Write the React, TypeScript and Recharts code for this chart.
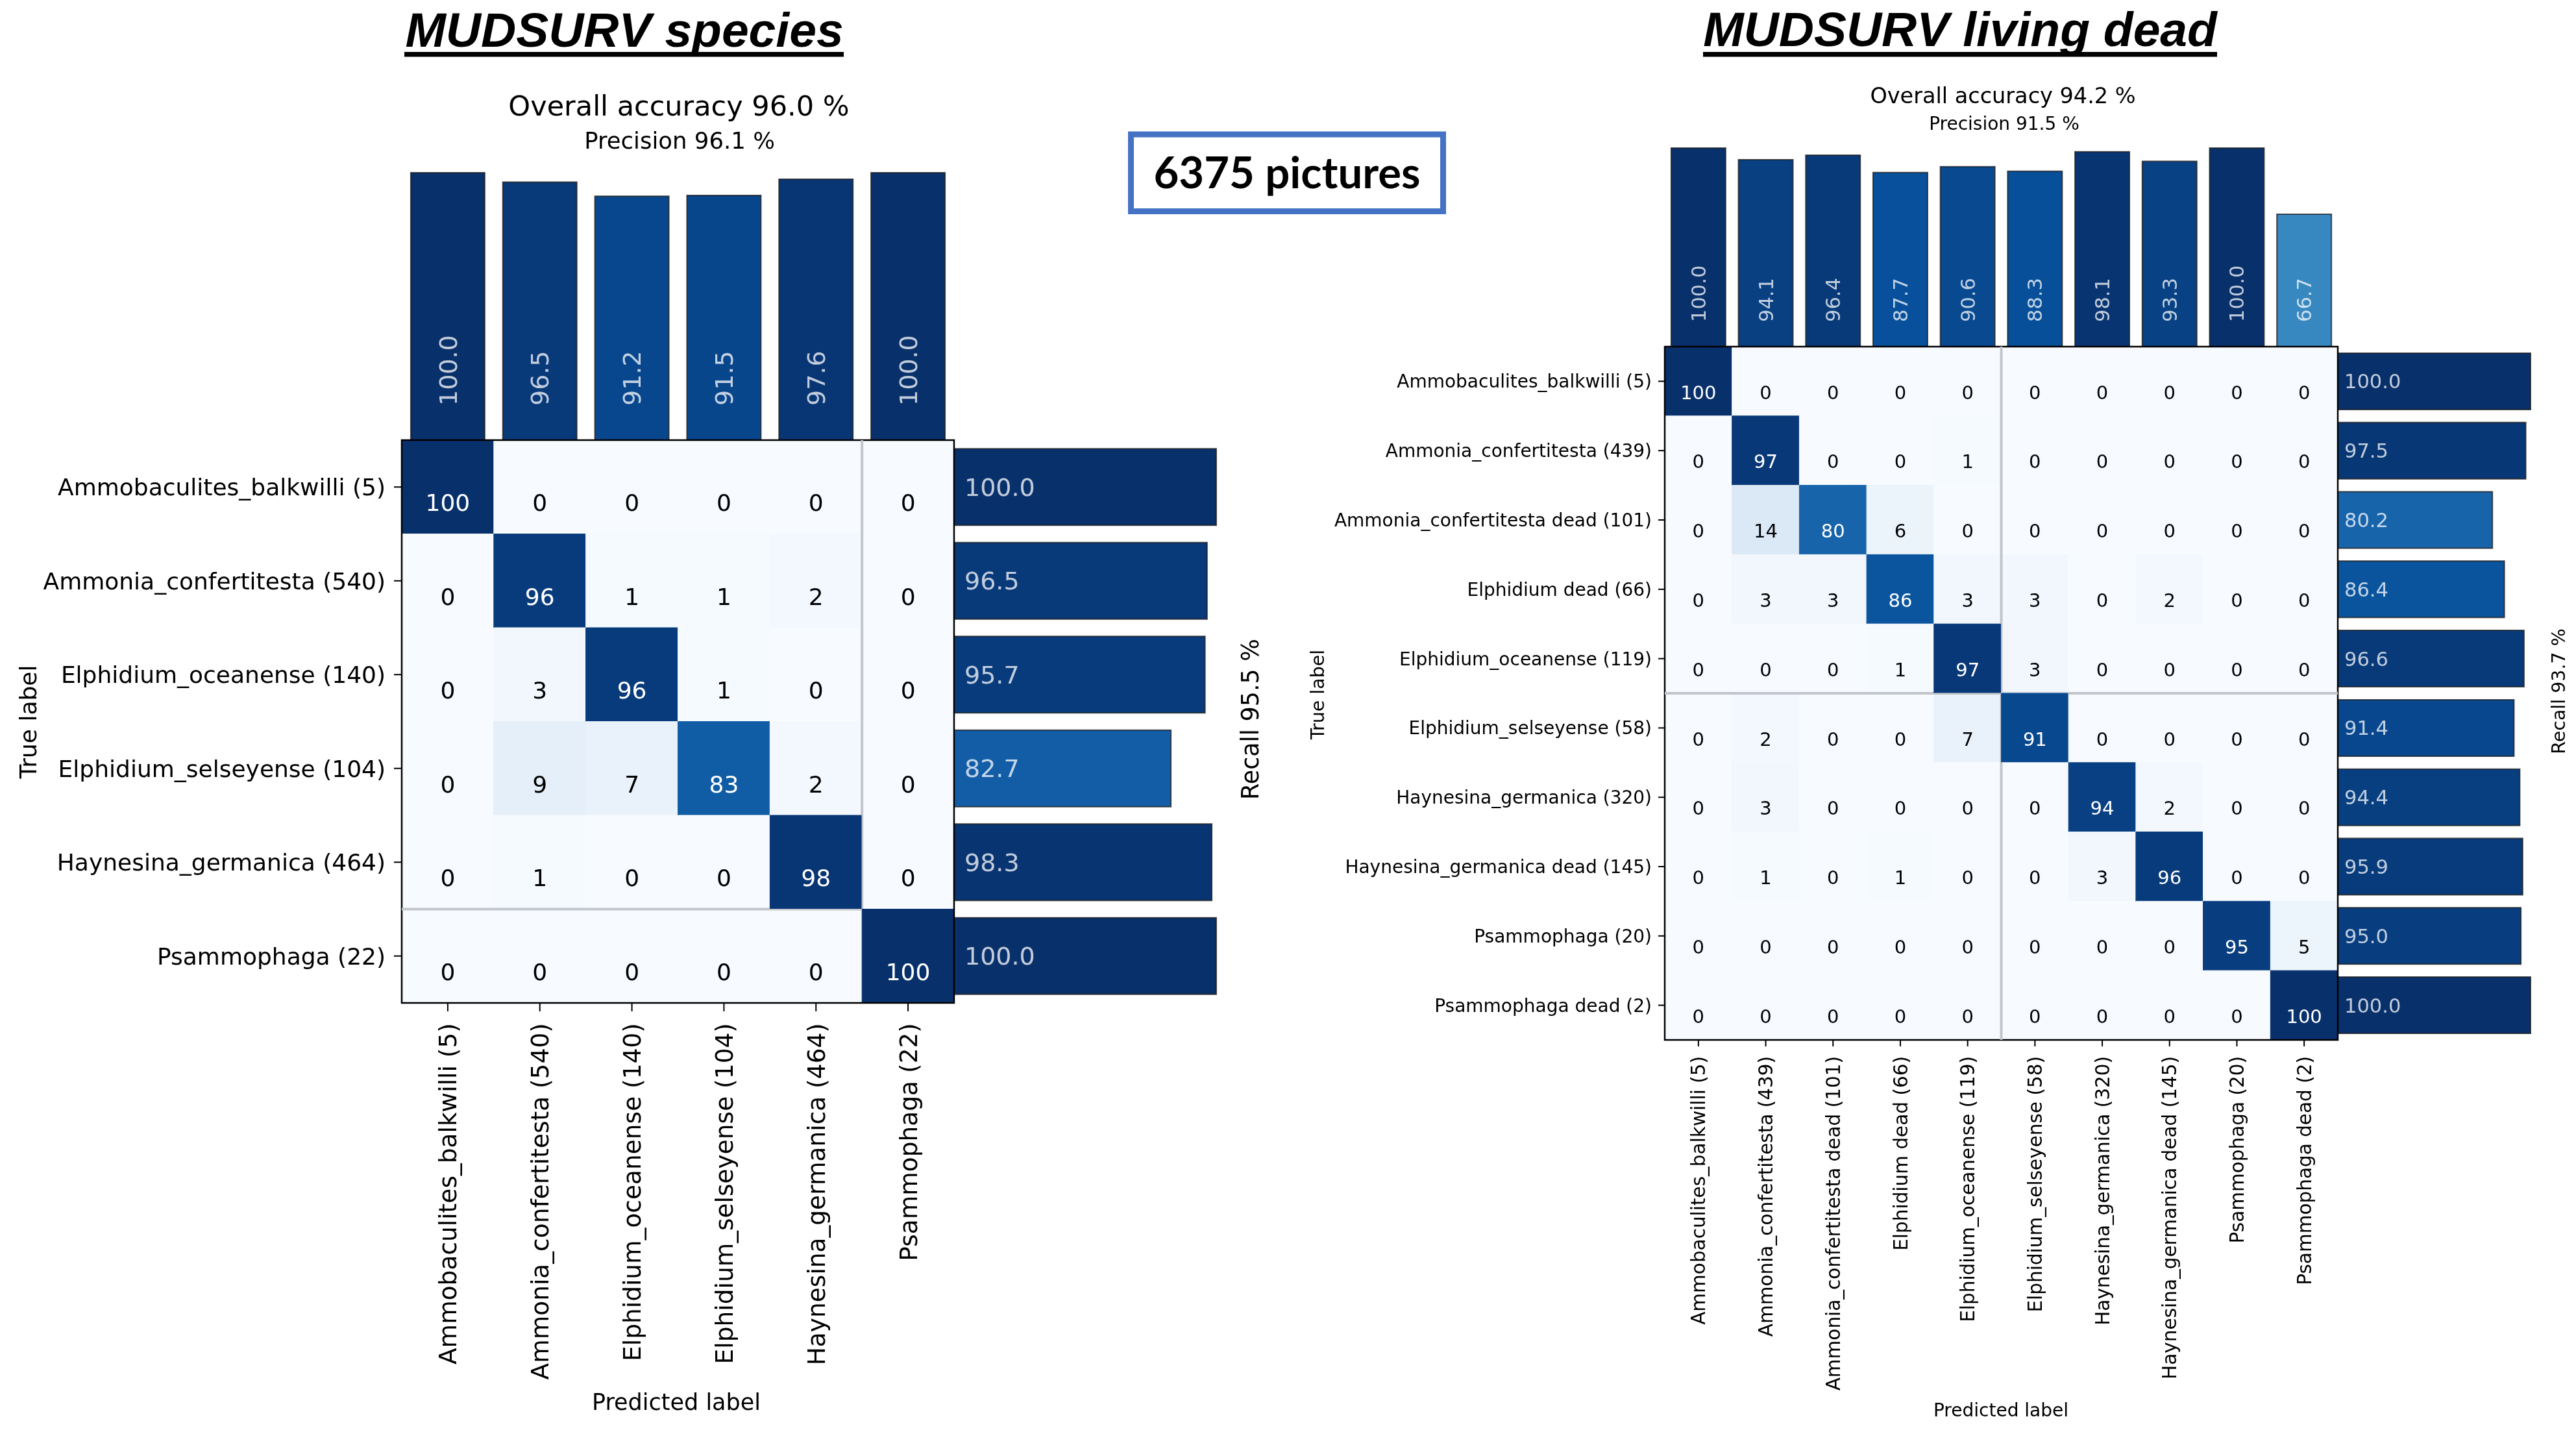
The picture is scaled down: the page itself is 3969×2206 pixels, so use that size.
import React from 'react';
import {
  BarChart,
  Bar,
  XAxis,
  YAxis,
  Cell,
  LabelList,
  ComposedChart,
  ReferenceLine,
  ReferenceArea,
} from 'recharts';

// ---------------- DATA ----------------
const speciesLabels = [
  'Ammobaculites_balkwilli (5)',
  'Ammonia_confertitesta (540)',
  'Elphidium_oceanense (140)',
  'Elphidium_selseyense (104)',
  'Haynesina_germanica (464)',
  'Psammophaga (22)',
];
const speciesMatrix = [
  [100, 0, 0, 0, 0, 0],
  [0, 96, 1, 1, 2, 0],
  [0, 3, 96, 1, 0, 0],
  [0, 9, 7, 83, 2, 0],
  [0, 1, 0, 0, 98, 0],
  [0, 0, 0, 0, 0, 100],
];
const speciesPrecision = [100.0, 96.5, 91.2, 91.5, 97.6, 100.0];
const speciesRecall = [100.0, 96.5, 95.7, 82.7, 98.3, 100.0];
const speciesSplit = 5;
const speciesTitle = 'MUDSURV species';
const speciesAccuracyText = 'Overall accuracy 96.0 %';
const speciesPrecisionText = 'Precision 96.1 %';
const speciesRecallText = 'Recall 95.5 %';

const livingLabels = [
  'Ammobaculites_balkwilli (5)',
  'Ammonia_confertitesta (439)',
  'Ammonia_confertitesta dead (101)',
  'Elphidium dead (66)',
  'Elphidium_oceanense (119)',
  'Elphidium_selseyense (58)',
  'Haynesina_germanica (320)',
  'Haynesina_germanica dead (145)',
  'Psammophaga (20)',
  'Psammophaga dead (2)',
];
const livingMatrix = [
  [100, 0, 0, 0, 0, 0, 0, 0, 0, 0],
  [0, 97, 0, 0, 1, 0, 0, 0, 0, 0],
  [0, 14, 80, 6, 0, 0, 0, 0, 0, 0],
  [0, 3, 3, 86, 3, 3, 0, 2, 0, 0],
  [0, 0, 0, 1, 97, 3, 0, 0, 0, 0],
  [0, 2, 0, 0, 7, 91, 0, 0, 0, 0],
  [0, 3, 0, 0, 0, 0, 94, 2, 0, 0],
  [0, 1, 0, 1, 0, 0, 3, 96, 0, 0],
  [0, 0, 0, 0, 0, 0, 0, 0, 95, 5],
  [0, 0, 0, 0, 0, 0, 0, 0, 0, 100],
];
const livingPrecision = [100.0, 94.1, 96.4, 87.7, 90.6, 88.3, 98.1, 93.3, 100.0, 66.7];
const livingRecall = [100.0, 97.5, 80.2, 86.4, 96.6, 91.4, 94.4, 95.9, 95.0, 100.0];
const livingSplit = 5;
const livingTitle = 'MUDSURV living dead';
const livingAccuracyText = 'Overall accuracy 94.2 %';
const livingPrecisionText = 'Precision 91.5 %';
const livingRecallText = 'Recall 93.7 %';

const picturesText = '6375 pictures';
const trueLabelText = 'True label';
const predictedLabelText = 'Predicted label';

// ---------------- COLORMAP (matplotlib Blues) ----------------
const BLUES_STOPS = ['#f7fbff', '#deebf7', '#c6dbef', '#9ecae1', '#6baed6', '#4292c6', '#2171b5', '#08519c', '#08306b'];
function hexToRgb(h: string) {
  const v = parseInt(h.slice(1), 16);
  return [(v >> 16) & 255, (v >> 8) & 255, v & 255];
}
function blues(t: number) {
  const tt = Math.max(0, Math.min(1, t));
  const s = tt * (BLUES_STOPS.length - 1);
  const i = Math.min(Math.floor(s), BLUES_STOPS.length - 2);
  const f = s - i;
  const a = hexToRgb(BLUES_STOPS[i]);
  const b = hexToRgb(BLUES_STOPS[i + 1]);
  const c = a.map((av, k) => Math.round(av + (b[k] - av) * f));
  return `rgb(${c[0]},${c[1]},${c[2]})`;
}

// ---------------- LAYOUTS ----------------
const speciesLayout = {
  mx: 619, my: 678, mw: 851, mh: 867,
  topH: 412, recallLen: 404,
  yAxisWidth: 619, xAxisHeight: 640,
  tickFont: 36, xTickFont: 37.5, cellFont: 36, barFont: 38,
  yTickSize: 12, yTickMargin: 13, xTickSize: 13, xTickMargin: 18,
  cellBaseline: 36.5, topLabelGap: 53, recallPad: 16,
  topGap: '9.8%', recallGap: '9.15%',
  vSeg: [0, 5], hSeg: [0, 5],
};
const livingLayout = {
  mx: 2565, my: 534, mw: 1037, mh: 1068,
  topH: 306, recallLen: 297,
  yAxisWidth: 560, xAxisHeight: 560,
  tickFont: 28, xTickFont: 29.5, cellFont: 29, barFont: 30.5,
  yTickSize: 10, yTickMargin: 10, xTickSize: 10, xTickMargin: 15,
  cellBaseline: 27, topLabelGap: 38, recallPad: 10,
  topGap: '9.5%', recallGap: '9.25%',
  vSeg: [0, 10], hSeg: [0, 10],
};

const BAR_EDGE = '#1b1b1b';
const SEP_COLOR = '#c2c5cb';

function rectOf(p: any) {
  const vb = p && p.viewBox && p.viewBox.width != null ? p.viewBox : p;
  return {
    x: Number(vb.x),
    y: Number(vb.y),
    width: Number(vb.width),
    height: Number(vb.height),
  };
}

function XTick(props: any) {
  const { x, y, payload, labels, fontSize } = props;
  const label = labels[Math.floor(Number(payload.value))];
  return (
    <text
      x={x}
      y={y}
      transform={`rotate(-90, ${x}, ${y})`}
      textAnchor="end"
      dy="0.36em"
      fontSize={fontSize}
      fill="#000"
    >
      {label}
    </text>
  );
}

function YTick(props: any) {
  const { x, y, payload, fontSize } = props;
  return (
    <text x={x} y={y} textAnchor="end" dy="0.36em" fontSize={fontSize} fill="#000">
      {payload.value}
    </text>
  );
}

function ConfusionPanel(props: any) {
  const { labels, matrix, precision, recall, split, L } = props;
  const n = labels.length;
  const pad = 5;
  const cellData = labels.map((name: string, r: number) => {
    const row: any = { name };
    matrix[r].forEach((v: number, c: number) => {
      row[`c${c}`] = 1;
      row[`v${c}`] = v;
    });
    return row;
  });
  // cell boundaries 0..n, used by the frame / separator overlay
  const gridData = Array.from({ length: n + 1 }, (_, i) => ({ b: i }));
  const precData = labels.map((name: string, i: number) => ({ name, value: precision[i] }));
  const recData = labels.map((name: string, i: number) => ({ name, value: recall[i] }));

  const cellLabel = (p: any) => {
    const r = rectOf(p);
    const v = Number(p.value);
    return (
      <text
        x={r.x + r.width / 2}
        y={r.y + r.height / 2 + L.cellBaseline}
        textAnchor="middle"
        fontSize={L.cellFont}
        fill={v > 50 ? '#ffffff' : '#000000'}
      >
        {v}
      </text>
    );
  };
  const topLabel = (p: any) => {
    const r = rectOf(p);
    const cx = r.x + r.width / 2;
    const cy = r.y + r.height - L.topLabelGap;
    return (
      <text
        x={cx}
        y={cy}
        transform={`rotate(-90, ${cx}, ${cy})`}
        textAnchor="start"
        dy="0.36em"
        fontSize={L.barFont}
        fill="#ffffff"
        fillOpacity={0.75}
      >
        {Number(p.value).toFixed(1)}
      </text>
    );
  };
  const recallLabel = (p: any) => {
    const r = rectOf(p);
    return (
      <text
        x={r.x + L.recallPad}
        y={r.y + r.height / 2}
        textAnchor="start"
        dy="0.36em"
        fontSize={L.barFont}
        fill="#ffffff"
        fillOpacity={0.75}
      >
        {Number(p.value).toFixed(1)}
      </text>
    );
  };

  return (
    <>
      {/* matrix */}
      <div style={{ position: 'absolute', left: L.mx - L.yAxisWidth, top: L.my - pad }}>
        <BarChart
          width={L.yAxisWidth + L.mw + pad}
          height={pad + L.mh + L.xAxisHeight + pad}
          data={cellData}
          layout="vertical"
          barCategoryGap={0}
          barGap={0}
          margin={{ top: pad, right: pad, bottom: pad, left: 0 }}
        >
          <XAxis
            type="number"
            domain={[0, n]}
            ticks={labels.map((_: string, i: number) => i + 0.5)}
            interval={0}
            height={L.xAxisHeight}
            axisLine={false}
            tickLine={{ stroke: '#000', strokeWidth: 2 }}
            tickSize={L.xTickSize}
            tickMargin={L.xTickMargin}
            tick={(tp: any) => <XTick {...tp} labels={labels} fontSize={L.xTickFont} />}
          />
          <YAxis
            type="category"
            dataKey="name"
            width={L.yAxisWidth}
            interval={0}
            axisLine={false}
            tickLine={{ stroke: '#000', strokeWidth: 2 }}
            tickSize={L.yTickSize}
            tickMargin={L.yTickMargin}
            tick={(tp: any) => <YTick {...tp} fontSize={L.tickFont} />}
          />
          {labels.map((_: string, c: number) => (
            <Bar key={c} dataKey={`c${c}`} stackId="m" isAnimationActive={false}>
              {matrix.map((row: number[], r: number) => (
                <Cell key={r} fill={blues(row[c] / 100)} stroke={blues(row[c] / 100)} strokeWidth={1} />
              ))}
              <LabelList dataKey={`v${c}`} content={cellLabel} />
            </Bar>
          ))}
        </BarChart>
      </div>

      {/* precision bars on top */}
      <div style={{ position: 'absolute', left: L.mx, top: L.my - L.topH - pad }}>
        <BarChart
          width={L.mw}
          height={L.topH + pad}
          data={precData}
          barCategoryGap={L.topGap}
          margin={{ top: pad, right: 0, bottom: 0, left: 0 }}
        >
          <XAxis dataKey="name" hide />
          <YAxis hide domain={[0, 100]} />
          <Bar dataKey="value" isAnimationActive={false}>
            {precData.map((d: any, i: number) => (
              <Cell key={i} fill={blues(d.value / 100)} stroke={BAR_EDGE} strokeOpacity={0.75} strokeWidth={2} />
            ))}
            <LabelList dataKey="value" content={topLabel} />
          </Bar>
        </BarChart>
      </div>

      {/* recall bars on the right */}
      <div style={{ position: 'absolute', left: L.mx + L.mw, top: L.my }}>
        <BarChart
          layout="vertical"
          width={L.recallLen + pad}
          height={L.mh}
          data={recData}
          barCategoryGap={L.recallGap}
          margin={{ top: 0, right: pad, bottom: 0, left: 0 }}
        >
          <XAxis type="number" hide domain={[0, 100]} />
          <YAxis type="category" dataKey="name" hide />
          <Bar dataKey="value" isAnimationActive={false}>
            {recData.map((d: any, i: number) => (
              <Cell key={i} fill={blues(d.value / 100)} stroke={BAR_EDGE} strokeOpacity={0.75} strokeWidth={2} />
            ))}
            <LabelList dataKey="value" content={recallLabel} />
          </Bar>
        </BarChart>
      </div>

      {/* frame and separator lines (darken blend: lines vanish over dark cells) */}
      <div style={{ position: 'absolute', left: L.mx - pad, top: L.my - pad, mixBlendMode: 'darken' }}>
        <ComposedChart
          width={L.mw + 2 * pad}
          height={L.mh + 2 * pad}
          data={gridData}
          margin={{ top: pad, right: pad, bottom: pad, left: pad }}
        >
          <XAxis type="number" dataKey="b" hide domain={[0, n]} allowDataOverflow />
          <YAxis type="number" dataKey="b" hide domain={[0, n]} reversed allowDataOverflow />
          <ReferenceLine
            segment={[{ x: split, y: L.vSeg[0] }, { x: split, y: L.vSeg[1] }]}
            stroke={SEP_COLOR}
            strokeWidth={4}
            ifOverflow="visible"
          />
          <ReferenceLine
            segment={[{ x: L.hSeg[0], y: split }, { x: L.hSeg[1], y: split }]}
            stroke={SEP_COLOR}
            strokeWidth={4}
            ifOverflow="visible"
          />
          <ReferenceArea
            x1={0}
            x2={n}
            y1={0}
            y2={n}
            fill="none"
            fillOpacity={0}
            stroke="#000"
            strokeWidth={2.5}
            ifOverflow="visible"
          />
        </ComposedChart>
      </div>
    </>
  );
}

export default function App() {
  return (
    <div
      style={{
        position: 'absolute',
        left: 0,
        top: 0,
        width: 3969,
        height: 2206,
        background: '#ffffff',
        fontFamily: 'DejaVu Sans',
        overflow: 'hidden',
      }}
    >
      <svg width={3969} height={2206} style={{ position: 'absolute', left: 0, top: 0 }}>
        {/* left panel texts */}
        <text x={962} y={72} textAnchor="middle" fontFamily="Liberation Sans" fontWeight="bold" fontStyle="italic" fontSize={75} fill="#000">
          {speciesTitle}
        </text>
        <rect x={623} y={80} width={677} height={7.5} fill="#000" />
        <text x={1046} y={178} textAnchor="middle" fontSize={43} fill="#000">{speciesAccuracyText}</text>
        <text x={1047} y={229} textAnchor="middle" fontSize={35.5} fill="#000">{speciesPrecisionText}</text>
        <text x={56} y={1112} transform="rotate(-90, 56, 1112)" textAnchor="middle" fontSize={36} fill="#000">{trueLabelText}</text>
        <text x={1939} y={1108} transform="rotate(-90, 1939, 1108)" textAnchor="middle" fontSize={36.5} fill="#000">{speciesRecallText}</text>
        <text x={1042} y={2172} textAnchor="middle" fontSize={35} fill="#000">{predictedLabelText}</text>

        {/* right panel texts */}
        <text x={3020} y={71} textAnchor="middle" fontFamily="Liberation Sans" fontWeight="bold" fontStyle="italic" fontSize={75} fill="#000">
          {livingTitle}
        </text>
        <rect x={2624} y={80} width={792} height={7.5} fill="#000" />
        <text x={3086} y={159} textAnchor="middle" fontSize={33.5} fill="#000">{livingAccuracyText}</text>
        <text x={3088} y={200} textAnchor="middle" fontSize={28} fill="#000">{livingPrecisionText}</text>
        <text x={2040} y={1070} transform="rotate(-90, 2040, 1070)" textAnchor="middle" fontSize={28.5} fill="#000">{trueLabelText}</text>
        <text x={3952} y={1065} transform="rotate(-90, 3952, 1065)" textAnchor="middle" fontSize={28.5} fill="#000">{livingRecallText}</text>
        <text x={3083} y={2182} textAnchor="middle" fontSize={28} fill="#000">{predictedLabelText}</text>

        {/* pictures box */}
        <rect x={1742.5} y={207} width={481} height={118.5} fill="#ffffff" stroke="#4472c4" strokeWidth={9} />
        <text x={1983} y={290} textAnchor="middle" fontFamily="Lato" fontWeight="bold" fontSize={67} fill="#000">
          {picturesText}
        </text>
      </svg>

      <ConfusionPanel
        labels={speciesLabels}
        matrix={speciesMatrix}
        precision={speciesPrecision}
        recall={speciesRecall}
        split={speciesSplit}
        L={speciesLayout}
      />
      <ConfusionPanel
        labels={livingLabels}
        matrix={livingMatrix}
        precision={livingPrecision}
        recall={livingRecall}
        split={livingSplit}
        L={livingLayout}
      />
    </div>
  );
}
